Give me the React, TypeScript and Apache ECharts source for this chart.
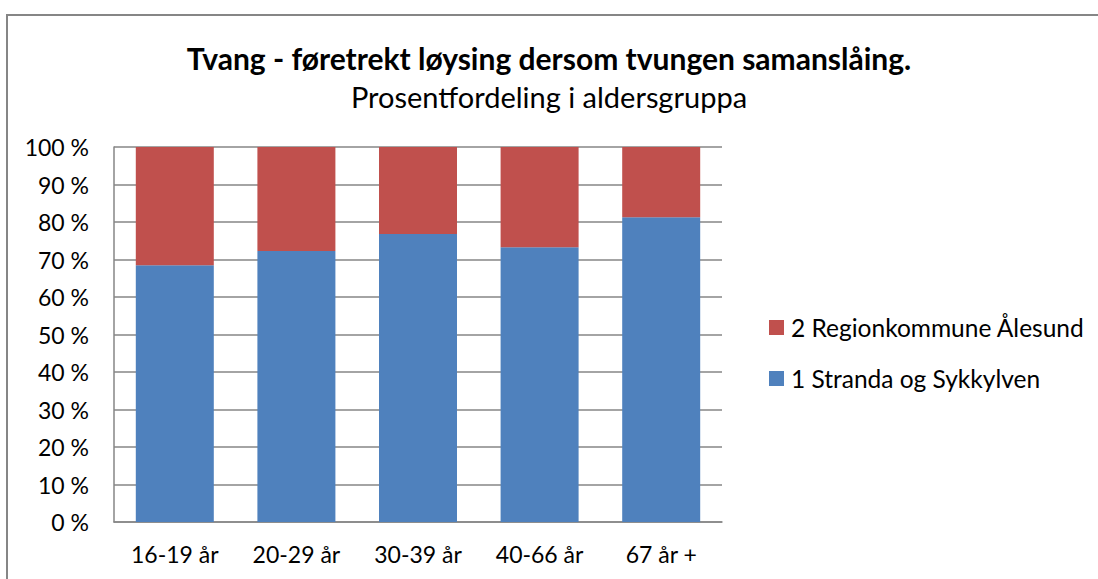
import React, { useEffect, useRef } from "react";
import * as echarts from "echarts";

const titleText = "Tvang - føretrekt løysing dersom tvungen samanslåing.";
const subtitleText = "Prosentfordeling i aldersgruppa";
const categories = ["16-19 år", "20-29 år", "30-39 år", "40-66 år", "67 år +"];
const seriesNames = ["1 Stranda og Sykkylven", "2 Regionkommune Ålesund"];
const strandaValues = [68.5, 72.3, 76.8, 73.3, 81.3];
const regionValues = [31.5, 27.7, 23.2, 26.7, 18.7];

const FONT = "Lato, 'Open Sans', sans-serif";

export default function App() {
  const ref = useRef<HTMLDivElement>(null);
  useEffect(() => {
    if (!ref.current) return;
    const chart = echarts.init(ref.current, undefined, { renderer: "svg" });
    chart.setOption({
      animation: false,
      backgroundColor: "#ffffff",
      textStyle: { fontFamily: FONT },
      graphic: [
        {
          type: "rect",
          shape: { x: 7, y: 15, width: 1200, height: 700 },
          style: { fill: "none", stroke: "#868686", lineWidth: 2 },
          silent: true,
          z: -1,
        },
      ],
      title: [
        {
          text: titleText,
          left: "center",
          top: 38,
          textStyle: { fontFamily: FONT, fontSize: 30, fontWeight: "bold", color: "#000" },
        },
        {
          text: subtitleText,
          left: "center",
          top: 77,
          textStyle: { fontFamily: FONT, fontSize: 29, fontWeight: "normal", color: "#000" },
        },
      ],
      legend: {
        orient: "vertical",
        left: 764,
        top: 310,
        itemWidth: 15,
        itemHeight: 15,
        itemGap: 26,
        icon: "rect",
        data: [seriesNames[1], seriesNames[0]],
        textStyle: { fontFamily: FONT, fontSize: 24.5, color: "#000", padding: [0, 0, 0, 2] },
      },
      grid: { left: 114, right: 376, top: 147, bottom: 57, containLabel: false },
      xAxis: {
        type: "category",
        data: categories,
        axisLine: { lineStyle: { color: "#868686", width: 1.5 } },
        axisTick: { show: false },
        axisLabel: { color: "#000", fontSize: 23, margin: 20, fontFamily: FONT },
      },
      yAxis: {
        type: "value",
        min: 0,
        max: 100,
        interval: 10,
        axisLine: { show: true, lineStyle: { color: "#868686", width: 1.5 } },
        axisTick: { show: false },
        splitLine: { lineStyle: { color: "#868686", width: 1.5 } },
        axisLabel: { color: "#000", fontSize: 23, margin: 25, formatter: "{value} %", fontFamily: FONT },
      },
      series: [
        {
          name: seriesNames[0],
          type: "bar",
          stack: "total",
          data: strandaValues,
          barWidth: 78,
          itemStyle: { color: "#4F81BD" },
        },
        {
          name: seriesNames[1],
          type: "bar",
          stack: "total",
          data: regionValues,
          barWidth: 78,
          itemStyle: { color: "#C0504D" },
        },
      ],
    });
    return () => chart.dispose();
  }, []);
  return (
    <div
      ref={ref}
      style={{ position: "fixed", left: 0, top: 0, width: 1098, height: 579 }}
    />
  );
}
